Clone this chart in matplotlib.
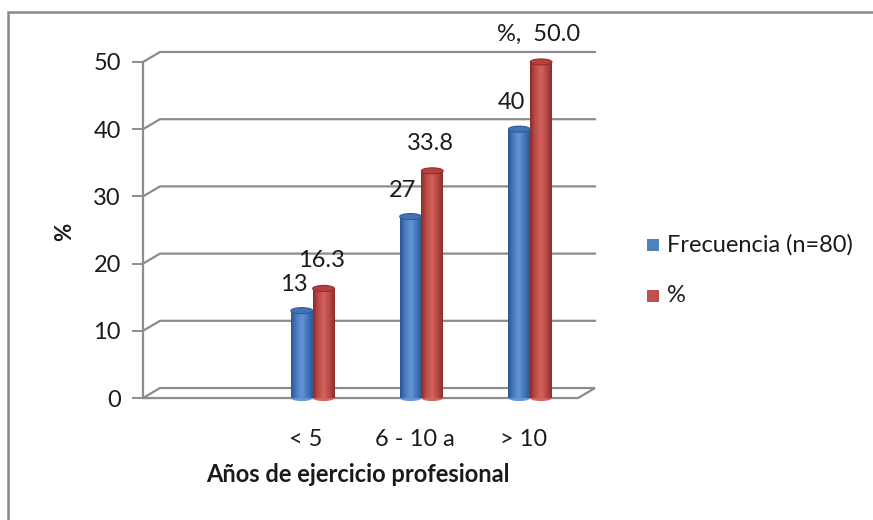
import numpy as np
import matplotlib
matplotlib.use("Agg")
import matplotlib.pyplot as plt
from matplotlib.patches import Ellipse, Polygon, Rectangle
from matplotlib.colors import LinearSegmentedColormap

plt.rcParams['font.family'] = ['Lato', 'DejaVu Sans']

# ---- data ----
categories = ["", "< 5", "6 - 10 a", "> 10"]
frecuencia = [None, 13, 27, 40]
porcentaje = [None, 16.3, 33.8, 50.0]
pct_labels = [None, "16.3", "33.8", "%,  50.0"]
freq_labels = [None, "13", "27", "40"]
yticks = [0, 10, 20, 30, 40, 50]
series_names = ["Frecuencia (n=80)", "%"]

W, H = 873, 520
FS = 17
fig = plt.figure(figsize=(W / 100, H / 100), dpi=100)

# axes placement (pixels)
left_px, right_px, top_px, bot_px = 143, 595, 51.3, 401.4
ax = fig.add_axes([left_px / W, 1 - bot_px / H, (right_px - left_px) / W, (bot_px - top_px) / H])
dx, dy = 0.156, 1.49  # depth offset in data units
xmin, xmax = -0.5, len(categories) - 0.5
ax.set_xlim(xmin, xmax + dx)
ax.set_ylim(-0.5, 50 + dy + 0.1)
for s in ax.spines.values():
    s.set_visible(False)
ax.set_facecolor('none')

grid_c = '#8c8c8c'
# back wall gridlines with diagonals
for v in yticks[1:]:
    ax.plot([xmin, xmin + dx, xmax + dx], [v, v + dy, v + dy], color=grid_c, lw=1.6,
            clip_on=False, zorder=1)
# floor
floor = Polygon([[xmin, 0], [xmax, 0], [xmax + dx, dy], [xmin + dx, dy]], closed=True,
                facecolor='white', edgecolor=grid_c, lw=1.6, zorder=1.5, clip_on=False)
ax.add_patch(floor)
# front left axis
ax.plot([xmin, xmin], [0, 50], color=grid_c, lw=1.6, zorder=2, clip_on=False)
ax.set_yticks(yticks)
ax.set_yticklabels([str(t) for t in yticks], fontsize=FS, color='#1a1a1a')
ax.tick_params(axis='y', length=8, width=1.4, color=grid_c, pad=8)
ax.set_xticks(range(len(categories)))
ax.set_xticklabels(categories, fontsize=FS, color='#1a1a1a')
ax.tick_params(axis='x', length=0, pad=20)

blue_cm = LinearSegmentedColormap.from_list('b', ['#2c5690', '#4a7dc0', '#6296d6', '#4677b8', '#2e5891'])
red_cm = LinearSegmentedColormap.from_list('r', ['#8a2c2a', '#bd4d4a', '#d6625e', '#b84946', '#8c2e2b'])
blue_top, red_top = '#4274b5', '#b8413e'
blue_topedge, red_topedge = '#2f5b94', '#8f2f2c'

bw = 0.2
shift = 0.06
grad = np.linspace(0, 1, 64).reshape(1, -1)


def cyl(xc, h, cmap, topc, tope):
    x0, x1 = xc - bw / 2, xc + bw / 2
    rect = Rectangle((x0, 0), bw, h, transform=ax.transData)
    im = ax.imshow(grad, cmap=cmap, extent=(x0, x1, 0, h), aspect='auto', zorder=3,
                   interpolation='bilinear')
    im.set_clip_path(rect)
    ax.add_patch(Ellipse((xc, 0), bw, 0.9, facecolor=cmap(0.5), edgecolor='none', zorder=2.9))
    ax.add_patch(Ellipse((xc, h), bw, 0.9, facecolor=topc, edgecolor=tope, lw=0.8, zorder=3.1))


for i, cat in enumerate(categories):
    if frecuencia[i] is None:
        continue
    xb = i + shift - bw / 2
    xr = i + shift + bw / 2
    cyl(xb, frecuencia[i], blue_cm, blue_top, blue_topedge)
    cyl(xr, porcentaje[i], red_cm, red_top, red_topedge)
    ax.text(xb - 0.07, frecuencia[i] + 3.9, freq_labels[i], ha='center', va='center',
            fontsize=FS, color='#1a1a1a', zorder=5)
    ax.text(xr - 0.02, porcentaje[i] + 4.1, pct_labels[i], ha='center', va='center',
            fontsize=FS, color='#1a1a1a', zorder=5)

ax.set_xlim(xmin, xmax + dx)
ax.set_ylim(-0.5, 50 + dy + 0.1)

# axis titles
fig.text(65 / W, 1 - 232 / H, '%', rotation=90, ha='center', va='center', fontsize=FS - 1,
         fontweight='bold', color='#1a1a1a')
fig.text(358 / W, 1 - 475 / H, 'Años de ejercicio profesional', ha='center', va='center',
         fontsize=FS, fontweight='bold', color='#1a1a1a')

# legend
leg_colors = ['#4f81bd', '#c0504d']
for k, (name, c) in enumerate(zip(series_names, leg_colors)):
    yc = 245 + k * 51
    fig.add_artist(Rectangle((647 / W, 1 - (yc + 6) / H), 12 / W, 12 / H, transform=fig.transFigure,
                             facecolor=c, edgecolor='none'))
    fig.text(667 / W, 1 - yc / H, name, ha='left', va='center', fontsize=FS, color='#1a1a1a')

# outer border
fig.add_artist(Rectangle((8 / W, -0.05), 1.2, 1 - 12 / H + 0.05, transform=fig.transFigure,
                         facecolor='none', edgecolor='#888888', lw=1.8, clip_on=False))

fig.savefig('out.png', dpi=100, facecolor='white')
